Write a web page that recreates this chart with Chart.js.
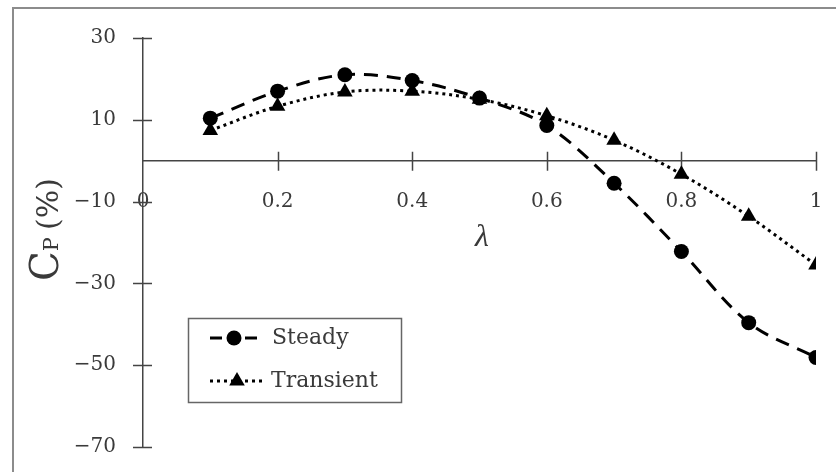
<!DOCTYPE html>
<html>
<head>
<meta charset="utf-8">
<script src="https://cdn.jsdelivr.net/npm/chart.js@4/dist/chart.umd.min.js"></script>
<style>
  html, body { margin: 0; padding: 0; background: #fff; overflow: hidden; }
  #wrap { position: relative; width: 836px; height: 472px; }
</style>
</head>
<body>
<div id="wrap"><canvas id="c" width="836" height="472"></canvas></div>
<script>
// ---- data ----
const lambdas = [0.1, 0.2, 0.3, 0.4, 0.5, 0.6, 0.7, 0.8, 0.9, 1.0];
const steady = [10.4, 17.0, 21.0, 19.6, 15.3, 8.6, -5.5, -22.2, -39.6, -48.1];
const transient = [7.4, 13.3, 16.8, 17.0, 15.0, 11.0, 5.0, -3.3, -13.6, -25.5];
const seriesNames = ['Steady', 'Transient'];
const xTicks = [0, 0.2, 0.4, 0.6, 0.8, 1];
const xTickLabels = ['0', '0.2', '0.4', '0.6', '0.8', '1'];
const yTicks = [-70, -50, -30, -10, 10, 30];
const yTickLabels = ['\u221270', '\u221250', '\u221230', '\u221210', '10', '30'];

const TEXT = '#3a3a3a';
const tickFont = { family: 'DejaVu Serif', size: 20 };

const toPts = (arr) => arr.map((v, i) => ({ x: lambdas[i], y: v }));

const decor = {
  id: 'decor',
  beforeDraw(chart) {
    const ctx = chart.ctx;
    ctx.save();
    ctx.strokeStyle = '#8c8c8c';
    ctx.lineWidth = 2;
    ctx.strokeRect(13, 8, 900, 600);
    ctx.restore();
  },
  beforeDatasetsDraw(chart) {
    const ctx = chart.ctx;
    const xs = chart.scales.x, ys = chart.scales.y;
    const ax = xs.getPixelForValue(0);
    const ay = ys.getPixelForValue(0);
    ctx.save();
    ctx.strokeStyle = '#444';
    ctx.lineWidth = 1.5;
    ctx.beginPath();
    ys.ticks.forEach(t => {
      const y = Math.round(ys.getPixelForValue(t.value)) + 0.5;
      ctx.moveTo(ax - 10, y); ctx.lineTo(ax + 9, y);
    });
    xs.ticks.forEach(t => {
      if (t.value === 0) return;
      const x = Math.round(xs.getPixelForValue(t.value)) + 0.5;
      ctx.moveTo(x, ay - 9); ctx.lineTo(x, ay + 10);
    });
    ctx.stroke();
    ctx.restore();
  },
  afterDraw(chart) {
    const ctx = chart.ctx;
    ctx.save();
    // y title: C_P (%)
    ctx.translate(58, 281);
    ctx.rotate(-Math.PI / 2);
    ctx.fillStyle = TEXT;
    ctx.textBaseline = 'alphabetic';
    ctx.textAlign = 'left';
    ctx.font = '39px "DejaVu Serif"';
    ctx.fillText('C', 0, 0);
    let w = ctx.measureText('C').width;
    ctx.font = '21px "DejaVu Serif"';
    ctx.fillText('P', w, 0);
    w += ctx.measureText('P').width + 7;
    ctx.font = '30px "DejaVu Serif"';
    ctx.fillText('(%)', w, 0);
    ctx.restore();

    // x title: λ
    ctx.save();
    ctx.fillStyle = TEXT;
    ctx.font = 'italic 32px "Liberation Serif"';
    ctx.textAlign = 'center';
    ctx.textBaseline = 'middle';
    ctx.fillText('\u03bb', 482, 238);
    ctx.restore();

    // legend
    ctx.save();
    ctx.fillStyle = '#fff';
    ctx.fillRect(188, 318, 213, 84);
    ctx.strokeStyle = '#666';
    ctx.lineWidth = 1.5;
    ctx.strokeRect(188.5, 318.5, 213, 84);
    const rows = [338, 381];
    chart.data.datasets.forEach((ds, i) => {
      const y = rows[i];
      ctx.save();
      ctx.strokeStyle = ds.borderColor;
      ctx.lineWidth = ds.borderWidth;
      if (i === 0) ctx.setLineDash([12, 23]); else ctx.setLineDash(ds.borderDash);
      ctx.beginPath();
      ctx.moveTo(210, y);
      ctx.lineTo(i === 0 ? 257 : 266, y);
      ctx.stroke();
      ctx.restore();
      ctx.save();
      ctx.fillStyle = ds.pointBackgroundColor;
      ctx.strokeStyle = ds.pointBackgroundColor;
      Chart.helpers.drawPoint(ctx, {
        pointStyle: ds.pointStyle, radius: ds.pointRadius,
        borderWidth: 0, rotation: 0
      }, i === 0 ? 234 : 237, y);
      ctx.restore();
      ctx.save();
      ctx.fillStyle = TEXT;
      ctx.font = '22px "DejaVu Serif"';
      ctx.textBaseline = 'middle';
      ctx.textAlign = 'left';
      ctx.fillText(ds.label, i === 0 ? 272 : 271, y);
      ctx.restore();
    });
    ctx.restore();
  }
};

new Chart(document.getElementById('c'), {
  type: 'line',
  data: {
    datasets: [
      {
        label: seriesNames[0], data: toPts(steady),
        borderColor: '#000', backgroundColor: '#000',
        borderWidth: 3, borderDash: [14, 9], tension: 0.35,
        pointStyle: 'circle', pointRadius: 7.5, pointBorderWidth: 0,
        pointBackgroundColor: '#000', fill: false
      },
      {
        label: seriesNames[1], data: toPts(transient),
        borderColor: '#000', backgroundColor: '#000',
        borderWidth: 3, borderDash: [3, 4], tension: 0.35,
        pointStyle: 'triangle', pointRadius: 9, pointBorderWidth: 0,
        pointBackgroundColor: '#000', fill: false
      }
    ]
  },
  options: {
    responsive: false,
    animation: false,
    events: [],
    layout: { padding: { left: 0, right: 20, top: 38, bottom: 25 } },
    plugins: { legend: { display: false }, tooltip: { enabled: false } },
    scales: {
      x: {
        type: 'linear', position: { y: 0 }, min: 0, max: 1,
        afterBuildTicks: (s) => { s.ticks = xTicks.map(v => ({ value: v })); },
        grid: { display: false, drawTicks: true, tickLength: 29 },
        border: { display: true, color: '#444', width: 1.5 },
        ticks: {
          color: TEXT, font: tickFont, padding: 0, maxRotation: 0,
          autoSkip: false,
          callback: (v, i) => xTickLabels[i]
        }
      },
      y: {
        type: 'linear', position: 'left', min: -70, max: 30,
        afterBuildTicks: (s) => { s.ticks = yTicks.map(v => ({ value: v })); },
        afterFit: (s) => { s.width = 143; },
        grid: { display: false, drawTicks: true, tickLength: 27 },
        border: { display: true, color: '#444', width: 1.5 },
        ticks: {
          color: TEXT, font: tickFont, padding: 0, autoSkip: false,
          callback: (v, i) => yTickLabels[i]
        }
      }
    }
  },
  plugins: [decor]
});
</script>
</body>
</html>
